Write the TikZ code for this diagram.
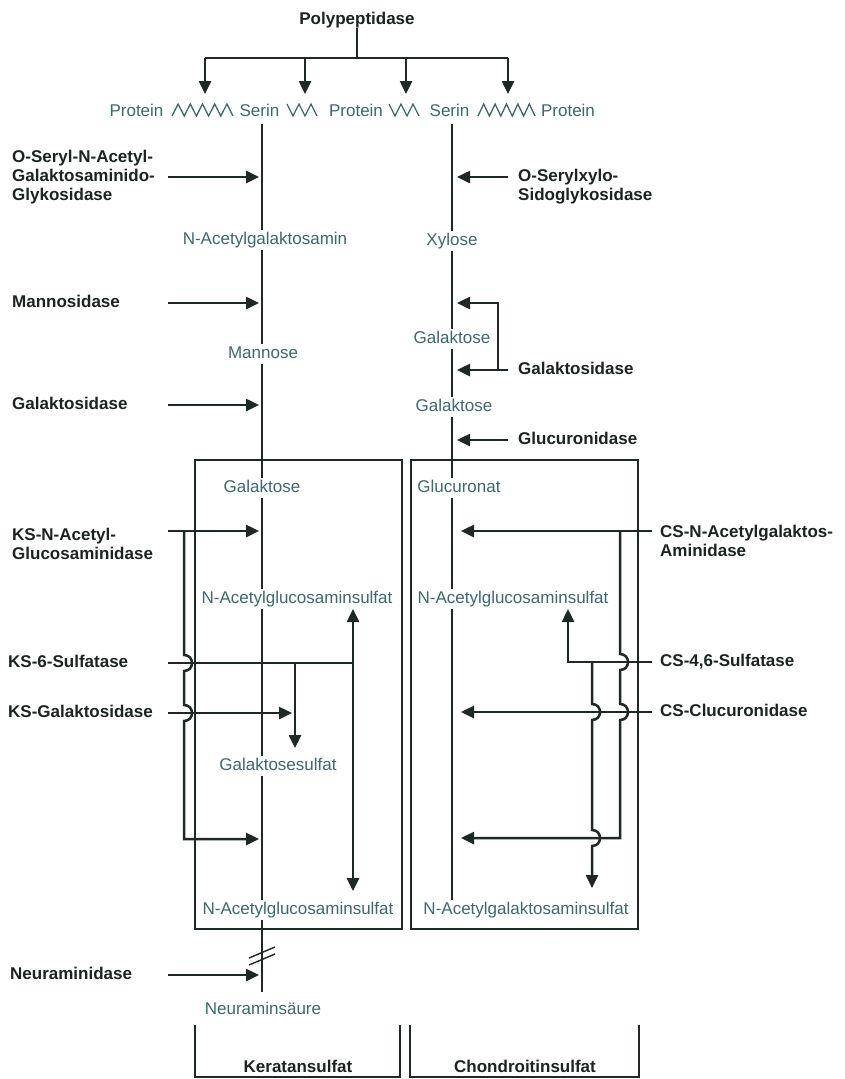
\documentclass[tikz,border=0pt]{standalone}
\usepackage{fontspec}
\setmainfont{Liberation Sans}
\usetikzlibrary{arrows.meta}
\definecolor{sug}{RGB}{62,104,108}
\definecolor{enz}{RGB}{28,36,32}
\definecolor{ln}{RGB}{30,40,36}
\begin{document}
\begin{tikzpicture}[x=1pt,y=-1pt,
  every node/.style={font=\fontsize{17}{19}\selectfont, inner sep=0pt},
  sugar/.style={text=sug, fill=white, inner xsep=2pt, inner ysep=2.5pt, text height=12.3pt, text depth=3.6pt},
  enzyme/.style={text=enz, font=\fontsize{17}{19}\selectfont\bfseries},
  enz1/.style={enzyme, anchor=west, text height=12.3pt, text depth=3.6pt},
  enzm/.style={enzyme, anchor=west, align=left},
  chain/.style={draw=ln, line width=1.8pt},
  frame/.style={draw=ln, line width=1.6pt},
  conn/.style={draw=ln, line width=2.5pt},
  arr/.style={conn, -{Triangle[length=13pt,width=12pt]}},
  darr/.style={conn, {Triangle[length=13pt,width=12pt]}-{Triangle[length=13pt,width=12pt]}},
  zig/.style={draw=sug, line width=1.3pt},
  brk/.style={draw=ln, line width=1.4pt},
]
\useasboundingbox (0,0) rectangle (845,1079);
\fill[white] (0,0) rectangle (845,1079);

% ---------- coordinates ----------
\coordinate (Ls) at (168,0);   % start of left enzyme arrows
\coordinate (Lt) at (259,0);   % tips at left chain
\coordinate (Rs) at (508,0);   % start of right enzyme arrows (top)
\coordinate (Rt) at (457,0);   % tips at right chain (top)
\coordinate (Cs) at (652,0);   % start of CS arrows
\coordinate (Ct) at (461,0);   % tips at right chain (box)
\coordinate (Ltop) at (262,124);
\coordinate (Lbot) at (262,992);
\coordinate (Rtop) at (452,124);
\coordinate (Rbot) at (452,900);

% ---------- boxes ----------
\draw[frame] (195,460) rectangle (402,929);
\draw[frame] (411,460) rectangle (638,929);
\draw[frame] (195,1025) -- (195,1077) -- (400,1077) -- (400,1025);
\draw[frame] (410,1025) -- (410,1077) -- (639,1077) -- (639,1025);

% ---------- chains ----------
\draw[chain] (Ltop) -- (Lbot);
\draw[chain] (Rtop) -- (Rbot);
\draw[brk] (249,958) -- (275,947);
\draw[brk] (249,965) -- (275,954);

% ---------- top: polypeptidase ----------
\node[enzyme] (pp) at (357,20) {Polypeptidase};
\coordinate (hb) at (357,58);
\coordinate (h1) at (205,58);
\coordinate (h4) at (508,58);
\coordinate (z1) at (205,94);
\coordinate (z2) at (305,94);
\coordinate (z3) at (406,94);
\coordinate (z4) at (508,94);
\draw[conn] (pp.south) -- (hb);
\draw[conn] (h1) -- (h4);
\draw[arr] (h1) -- (z1);
\draw[arr] (hb -| z2) -- (z2);
\draw[arr] (hb -| z3) -- (z3);
\draw[arr] (h4) -- (z4);

\node[sugar] (prot1) at (136.5,112) {Protein};
\node[sugar] (ser1) at (259.5,112) {Serin};
\node[sugar] (prot2) at (356,112) {Protein};
\node[sugar] (ser2) at (449.5,112) {Serin};
\node[sugar] (prot3) at (568,112) {Protein};
\draw[zig] (172,116) -- (178.1,104) -- (184.2,116) -- (190.3,104) -- (196.4,116) -- (202.5,104) -- (208.6,116) -- (214.7,104) -- (220.8,116) -- (226.9,104) -- (233,116);
\draw[zig] (287,104) -- (293,116) -- (299,104) -- (305,116) -- (311,104) -- (317,116);
\draw[zig] (389,104) -- (395,116) -- (401,104) -- (407,116) -- (413,104) -- (419,116);
\draw[zig] (478,116) -- (483.7,104) -- (489.4,116) -- (495.1,104) -- (500.8,116) -- (506.5,104) -- (512.2,116) -- (517.9,104) -- (523.6,116) -- (529.3,104) -- (535,116);

% ---------- left enzymes ----------
\node[enzm] (eos) at (12,177) {O-Seryl-N-Acetyl-\\Galaktosaminido-\\Glykosidase};
\node[enz1] (eman) at (12,303) {Mannosidase};
\node[enz1] (egal) at (12,405) {Galaktosidase};
\node[enzm] (eksn) at (12,544) {KS-N-Acetyl-\\Glucosaminidase};
\node[enz1] (eks6) at (8,663) {KS-6-Sulfatase};
\node[enz1] (eksg) at (8,713) {KS-Galaktosidase};
\node[enz1] (eneu) at (10,975) {Neuraminidase};

\draw[arr] (eos -| Ls) -- (eos -| Lt);
\draw[arr] (eman -| Ls) -- (eman -| Lt);
\draw[arr] (egal -| Ls) -- (egal -| Lt);
\draw[arr] (eneu -| Ls) -- (eneu -| Lt);

% KS network
\coordinate (ksn0) at (168,531);
\coordinate (ksn1) at (259,531);
\coordinate (ksv) at (184,531);
\coordinate (ksb) at (259,839);
\coordinate (ks6e) at (353,663);
\coordinate (ksd) at (295,663);
\coordinate (ksdt) at (295,748);
\coordinate (ksgt) at (292,713);
\coordinate (ksup) at (353,609);
\coordinate (ksdn) at (353,891);
\draw[arr] (ksn0) -- (ksn1);
\draw[arr] (ksv) -- (184,655) .. controls (194.7,655) and (194.7,671) .. (184,671)
  -- (184,705) .. controls (194.7,705) and (194.7,721) .. (184,721)
  -- (184,839) -- (ksb);
\draw[conn] (eks6 -| Ls) -- (ks6e);
\draw[arr] (ksd) -- (ksdt);
\draw[arr] (eksg -| Ls) -- (ksgt);
\draw[darr] (ksup) -- (ksdn);

% ---------- right enzymes ----------
\node[enzm] (eosx) at (518,187) {O-Serylxylo-\\Sidoglykosidase};
\node[enz1] (egalR) at (518,370) {Galaktosidase};
\node[enz1] (eglu) at (518,440) {Glucuronidase};
\node[enzm] (ecsn) at (660,541) {CS-N-Acetylgalaktos-\\Aminidase};
\node[enz1] (ecs46) at (660,662) {CS-4,6-Sulfatase};
\node[enz1] (ecsg) at (660,712) {CS-Clucuronidase};

\coordinate (osx) at (508,177);
\draw[arr] (osx) -- (osx -| Rt);
\draw[arr] (egalR -| Rs) -- (egalR -| Rt);
\coordinate (gb) at (498,370);
\coordinate (gt) at (457,303);
\draw[arr] (gb) -- (498,303) -- (gt);
\draw[arr] (eglu -| Rs) -- (eglu -| Rt);

% CS network
\coordinate (csn0) at (652,531);
\coordinate (csn1) at (461,531);
\coordinate (csv) at (620,531);
\coordinate (csb) at (461,838);
\coordinate (cs46) at (652,662);
\coordinate (csup) at (568,609);
\coordinate (csd) at (592,662);
\coordinate (csdt) at (592,888);
\draw[arr] (csn0) -- (csn1);
\draw[arr] (csv) -- (620,654) .. controls (630.7,654) and (630.7,670) .. (620,670)
  -- (620,704) .. controls (630.7,704) and (630.7,720) .. (620,720)
  -- (620,838) -- (csb);
\draw[arr] (cs46) -- (568,662) -- (csup);
\draw[arr] (csd) -- (592,704) .. controls (602.7,704) and (602.7,720) .. (592,720)
  -- (592,830) .. controls (602.7,830) and (602.7,846) .. (592,846) -- (csdt);
\draw[arr] (ecsg -| Cs) -- (ecsg -| Ct);

% ---------- sugar labels ----------
\node[sugar] (nagal) at (265,240) {N-Acetylgalaktosamin};
\node[sugar] (mann) at (263,354) {Mannose};
\node[sugar] (galK) at (262,488) {Galaktose};
\node[sugar] (nglc1) at (297,599) {N-Acetylglucosaminsulfat};
\node[sugar] (gsulf) at (278,766) {Galaktosesulfat};
\node[sugar] (nglc2) at (298,910) {N-Acetylglucosaminsulfat};
\node[sugar] (neu) at (263,1010) {Neuraminsäure};
\node[sugar] (xyl) at (452,241) {Xylose};
\node[sugar] (gal1) at (452,339) {Galaktose};
\node[sugar] (gal2) at (454,407) {Galaktose};
\node[sugar] (glcu) at (459,488) {Glucuronat};
\node[sugar] (nglc3) at (513,599) {N-Acetylglucosaminsulfat};
\node[sugar] (ngal) at (526,910) {N-Acetylgalaktosaminsulfat};

% ---------- bottom captions ----------
\node[enzyme] (kera) at (298,1066) {Keratansulfat};
\node[enzyme] (chon) at (525,1066) {Chondroitinsulfat};
\end{tikzpicture}
\end{document}
